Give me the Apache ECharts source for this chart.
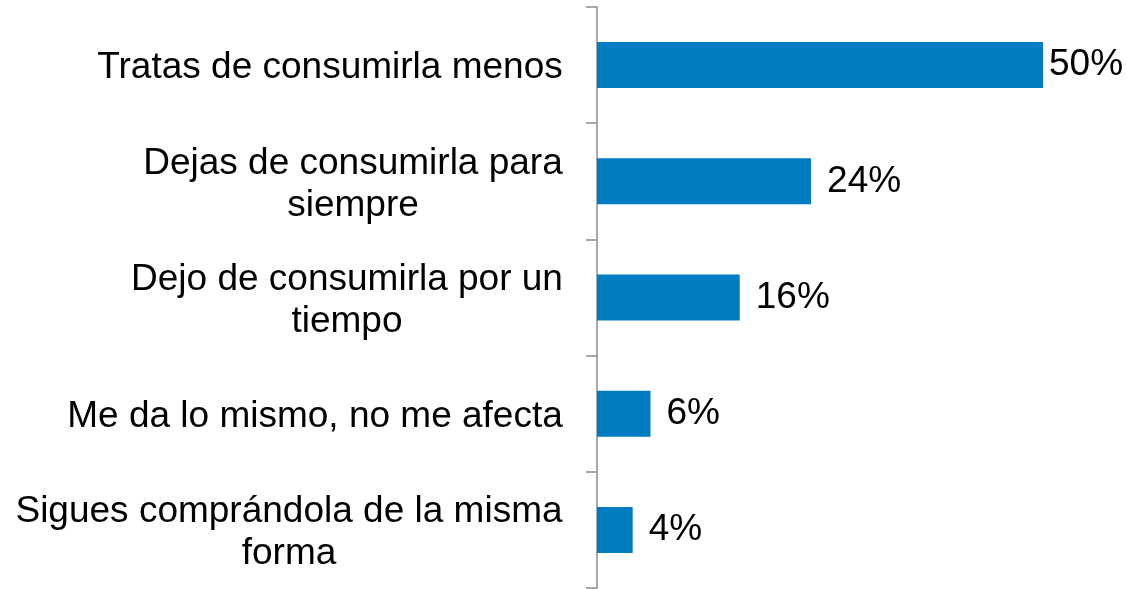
<!DOCTYPE html>
<html>
<head>
<meta charset="utf-8">
<script src="https://cdn.jsdelivr.net/npm/echarts@6/dist/echarts.min.js"></script>
<style>
  html, body { margin: 0; padding: 0; background: #fff; }
  #main { width: 1127px; height: 589px; }
</style>
</head>
<body>
<div id="main"></div>
<script>
// categories, top to bottom (lines split the way the picture wraps them)
const categories = [
  'Tratas de consumirla menos',
  'Dejas de consumirla para\nsiempre',
  'Dejo de consumirla por un\ntiempo',
  'Me da lo mismo, no me afecta',
  'Sigues comprándola de la misma\nforma'
];
const values = [50, 24, 16, 6, 4];

const fontFamily = 'Liberation Sans, Arial, sans-serif';
const fontSize = 37;

// width of each label block, so the lines can be centred inside it
const ctx = document.createElement('canvas').getContext('2d');
ctx.font = fontSize + 'px ' + fontFamily;
const rich = {};
categories.forEach(function (c, i) {
  let w = 0;
  c.split('\n').forEach(function (l) {
    w = Math.max(w, ctx.measureText(l).width);
  });
  rich['r' + i] = { width: Math.ceil(w), align: 'center', fontSize: fontSize, lineHeight: 42, color: '#000', fontFamily: fontFamily };
});

const data = values.map(function (v, i) {
  const item = { value: v };
  // the first value label sits close to its bar
  if (i === 0) item.label = { distance: 6 };
  return item;
});

let myChart = echarts.init(document.getElementById('main'));
myChart.setOption({
  animation: false,
  grid: {
    left: 597,
    right: 84,
    top: 7,
    bottom: 1
  },
  xAxis: {
    type: 'value',
    min: 0,
    max: 50,
    show: false
  },
  yAxis: {
    type: 'category',
    inverse: true,
    data: categories,
    axisLine: { show: true, lineStyle: { color: '#8c8c8c', width: 1.5 } },
    axisTick: { show: true, length: 11, lineStyle: { color: '#8c8c8c', width: 1.5 } },
    axisLabel: {
      margin: 34,
      padding: [6, 0, 0, 0],
      formatter: function (value, idx) {
        return value.split('\n').map(function (l) {
          return '{r' + idx + '|' + l + '}';
        }).join('\n');
      },
      rich: rich
    }
  },
  series: [
    {
      type: 'bar',
      data: data,
      barWidth: 46,
      itemStyle: { color: '#007cc3' },
      label: {
        show: true,
        position: 'right',
        distance: 16,
        padding: [6, 0, 0, 0],
        formatter: '{c}%',
        fontSize: fontSize,
        fontFamily: fontFamily,
        color: '#000'
      }
    }
  ]
});
</script>
</body>
</html>
